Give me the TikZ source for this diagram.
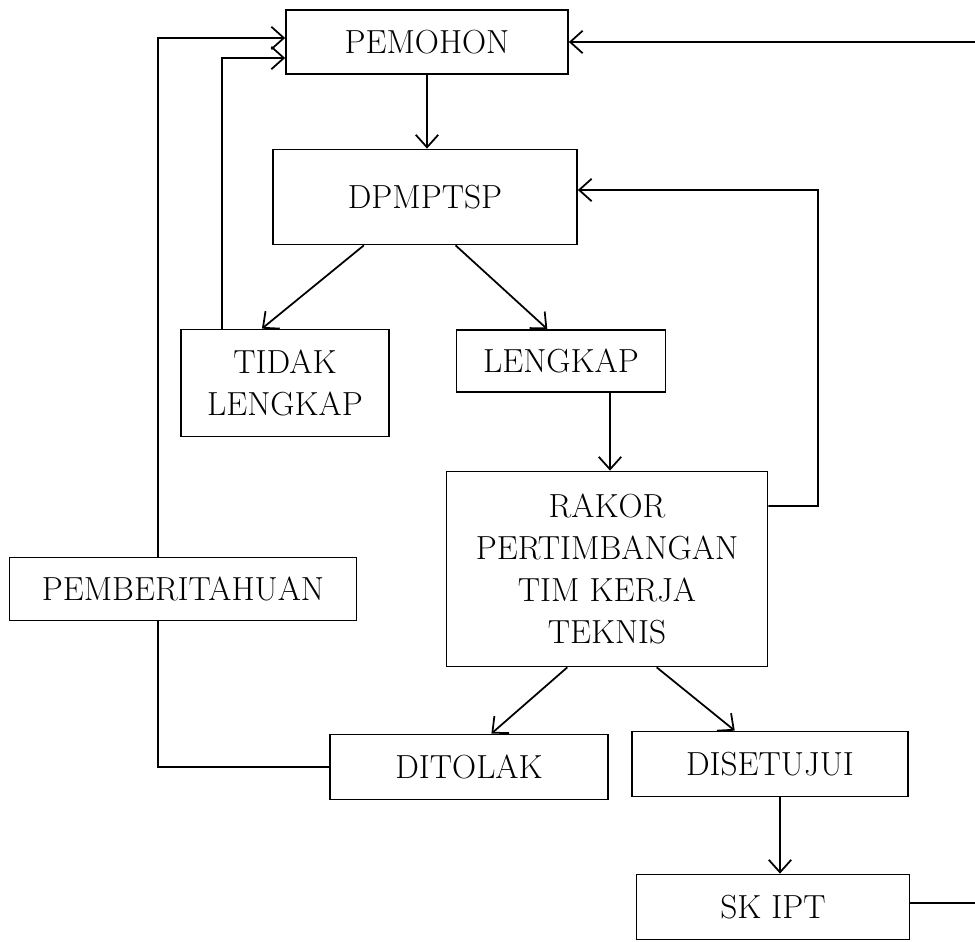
\documentclass[tikz,border=0pt]{standalone}
\usepackage{tikz}
\usetikzlibrary{arrows.meta, calc}

\tikzset{
	kotak/.style={draw, line width=1pt, fill=white, inner sep=0pt, align=center, font=\fontsize{19}{24}\selectfont},
	panah/.style={line width=1pt, -{Straight Barb[length=2.5mm,width=4.5mm]}},
	garis/.style={line width=1pt}
}

\begin{document}
\begin{tikzpicture}[x=0.02cm,y=-0.02cm]
	    \useasboundingbox (0,0) rectangle (975,942);
	    \coordinate (tepi) at (975,0);

	    \node[kotak, minimum width=5.64cm, minimum height=1.28cm] (pemohon) at (427,42) {PEMOHON};
	    \node[kotak, minimum width=6.08cm, minimum height=1.90cm] (dpmptsp) at (425,197) {DPMPTSP};
	    \node[kotak, minimum width=4.16cm, minimum height=2.14cm] (tidak) at (285,383) {TIDAK\\LENGKAP};
	    \node[kotak, minimum width=4.18cm, minimum height=1.24cm] (lengkap) at (561,361) {LENGKAP};
	    \node[kotak, minimum width=6.42cm, minimum height=3.90cm] (rakor) at (607,569) {RAKOR\\PERTIMBANGAN\\TIM KERJA\\TEKNIS};
	    \node[kotak, minimum width=5.56cm, minimum height=1.30cm] (ditolak) at (469,767) {DITOLAK};
	    \node[kotak, minimum width=5.52cm, minimum height=1.30cm] (disetujui) at (770,764) {DISETUJUI};
	    \node[kotak, minimum width=5.46cm, minimum height=1.30cm] (skipt) at (773,907) {SK IPT};

	    \draw[panah] (pemohon.south) -- (pemohon.south |- dpmptsp.north);
	    \draw[panah] ($(dpmptsp.south west)!0.30!(dpmptsp.south east)$) -- ($(tidak.north west)!0.39!(tidak.north east)$);
	    \draw[panah] ($(dpmptsp.south west)!0.60!(dpmptsp.south east)$) -- ($(lengkap.north west)!0.435!(lengkap.north east)$);
	    \draw[panah] ([xshift=0.98cm]lengkap.south) -- ([xshift=0.98cm]lengkap.south |- rakor.north);
	    \draw[panah] ([yshift=1.26cm]rakor.east) -| (818,190) -- ([yshift=0.14cm]dpmptsp.east);
	    \draw[panah] ([xshift=-1.26cm]tidak.north) |- ([yshift=-0.32cm]pemohon.west);
	    \draw[panah] ($(rakor.south west)!0.377!(rakor.south east)$) -- ($(ditolak.north west)!0.58!(ditolak.north east)$);
	    \draw[panah] ($(rakor.south west)!0.654!(rakor.south east)$) -- ($(disetujui.north west)!0.373!(disetujui.north east)$);
	    \draw[panah] ([xshift=0.2cm]disetujui.south) -- ([xshift=0.2cm]disetujui.south |- skipt.north);
	    \draw[panah] (ditolak.west) -| (158,38) -- ([yshift=0.08cm]pemohon.west);
	    \draw[garis] ([yshift=0.08cm]skipt.east) -- ([yshift=0.08cm]skipt.east -| tepi);
	    \draw[panah] (pemohon.east -| tepi) -- (pemohon.east);

	    \node[kotak, minimum width=6.94cm, minimum height=1.26cm] (pemberitahuan) at (183,589) {PEMBERITAHUAN};
\end{tikzpicture}
\end{document}
